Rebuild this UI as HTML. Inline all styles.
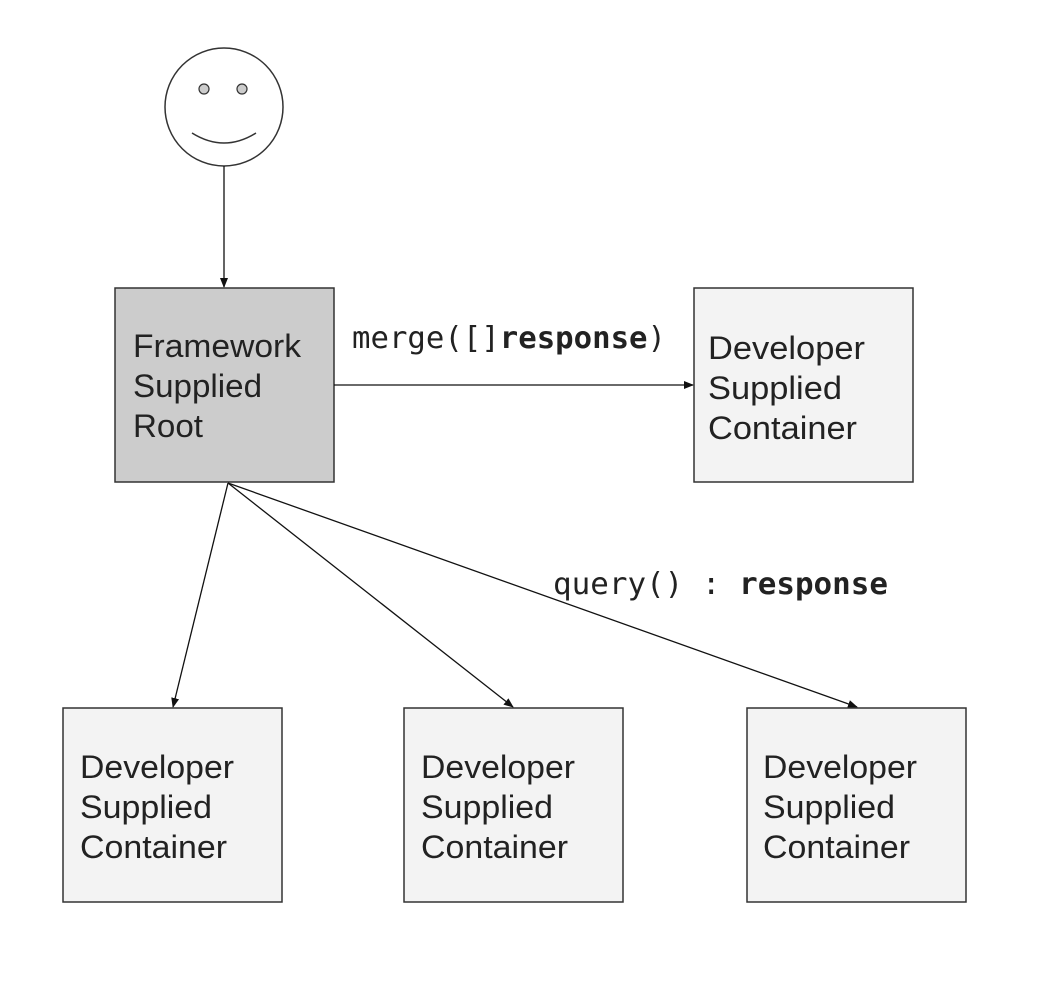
<!DOCTYPE html>
<html><head><meta charset="utf-8"><style>
html,body{margin:0;padding:0;background:#fff;}
svg{display:block;}
.t{font-family:"Liberation Sans",sans-serif;font-size:32px;fill:#222;}
.m{font-family:"DejaVu Sans Mono","Liberation Mono",monospace;font-size:30px;fill:#222;}
</style></head><body>
<svg width="1062" height="998" viewBox="0 0 1062 998" xmlns="http://www.w3.org/2000/svg">
<defs><marker id="a" markerWidth="10" markerHeight="8" refX="9" refY="4" orient="auto" markerUnits="userSpaceOnUse"><path d="M0,0 L10,4 L0,8 z" fill="#111"/></marker></defs>
<circle cx="224" cy="107" r="59" fill="#fff" stroke="#333" stroke-width="1.5"/>
<circle cx="204" cy="89" r="5" fill="#ccc" stroke="#333" stroke-width="1.2"/>
<circle cx="242" cy="89" r="5" fill="#ccc" stroke="#333" stroke-width="1.2"/>
<path d="M192,133 Q224,153 256,133" fill="none" stroke="#333" stroke-width="1.5"/>
<line x1="224" y1="166" x2="224" y2="287" stroke="#111" stroke-width="1.3" marker-end="url(#a)"/>
<rect x="115" y="288" width="219" height="194" fill="#cccccc" stroke="#333" stroke-width="1.5"/>
<rect x="694" y="288" width="219" height="194" fill="#f3f3f3" stroke="#333" stroke-width="1.5"/>
<line x1="334" y1="385" x2="693" y2="385" stroke="#111" stroke-width="1.3" marker-end="url(#a)"/>
<text class="m" x="352" y="348" textLength="314" lengthAdjust="spacingAndGlyphs">merge([]<tspan font-weight="bold">response</tspan>)</text>
<g class="t" lengthAdjust="spacingAndGlyphs">
<text class="t" x="133" y="357" textLength="168" lengthAdjust="spacingAndGlyphs">Framework</text>
<text class="t" x="133" y="397" textLength="129" lengthAdjust="spacingAndGlyphs">Supplied</text>
<text class="t" x="133" y="437" textLength="70" lengthAdjust="spacingAndGlyphs">Root</text>
<text class="t" x="708" y="359" textLength="157" lengthAdjust="spacingAndGlyphs">Developer</text>
<text class="t" x="708" y="399" textLength="134" lengthAdjust="spacingAndGlyphs">Supplied</text>
<text class="t" x="708" y="439" textLength="149" lengthAdjust="spacingAndGlyphs">Container</text>
</g>
<line x1="228" y1="483" x2="173" y2="707" stroke="#111" stroke-width="1.3" marker-end="url(#a)"/>
<line x1="228" y1="483" x2="513" y2="707" stroke="#111" stroke-width="1.3" marker-end="url(#a)"/>
<line x1="228" y1="483" x2="857" y2="707" stroke="#111" stroke-width="1.3" marker-end="url(#a)"/>
<text class="m" x="553" y="594" textLength="335" lengthAdjust="spacingAndGlyphs">query() : <tspan font-weight="bold">response</tspan></text>
<rect x="63" y="708" width="219" height="194" fill="#f3f3f3" stroke="#333" stroke-width="1.5"/>
<rect x="404" y="708" width="219" height="194" fill="#f3f3f3" stroke="#333" stroke-width="1.5"/>
<rect x="747" y="708" width="219" height="194" fill="#f3f3f3" stroke="#333" stroke-width="1.5"/>
<text class="t" x="80" y="778" textLength="154" lengthAdjust="spacingAndGlyphs">Developer</text>
<text class="t" x="80" y="818" textLength="132" lengthAdjust="spacingAndGlyphs">Supplied</text>
<text class="t" x="80" y="858" textLength="147" lengthAdjust="spacingAndGlyphs">Container</text>
<text class="t" x="421" y="778" textLength="154" lengthAdjust="spacingAndGlyphs">Developer</text>
<text class="t" x="421" y="818" textLength="132" lengthAdjust="spacingAndGlyphs">Supplied</text>
<text class="t" x="421" y="858" textLength="147" lengthAdjust="spacingAndGlyphs">Container</text>
<text class="t" x="763" y="778" textLength="154" lengthAdjust="spacingAndGlyphs">Developer</text>
<text class="t" x="763" y="818" textLength="132" lengthAdjust="spacingAndGlyphs">Supplied</text>
<text class="t" x="763" y="858" textLength="147" lengthAdjust="spacingAndGlyphs">Container</text>
</svg>
</body></html>
